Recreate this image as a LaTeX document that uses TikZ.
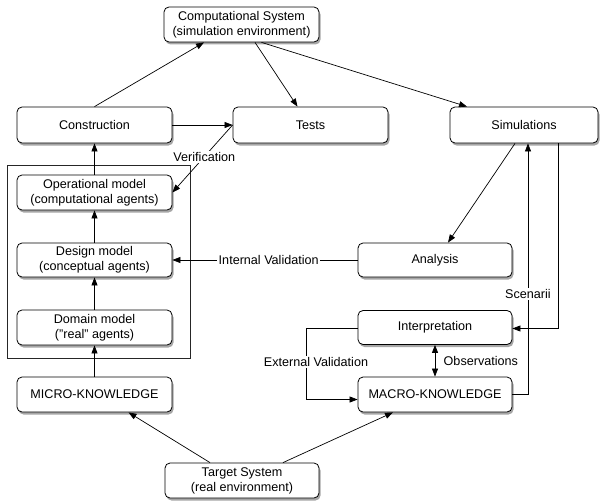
\documentclass[tikz,border=0pt]{standalone}
\usepackage{fontspec}
\setmainfont{Liberation Sans}
\usetikzlibrary{arrows.meta,shadows}
\begin{document}
\begin{tikzpicture}[x=1pt,y=-1pt,
  font=\fontsize{12.6}{15}\selectfont,
  box/.style={draw=black, line width=0.8pt, rounded corners=5pt, fill=white,
    align=center, minimum width=155pt, minimum height=35pt, inner sep=1pt,
    drop shadow={shadow xshift=1.5pt, shadow yshift=-2.5pt, fill=black, opacity=0.35}},
  arr/.style={draw, line width=0.7pt, -{Triangle[length=8pt,width=6pt]}},
  arrs/.style={draw, line width=0.7pt, {Triangle[length=8pt,width=6pt]}-{Triangle[length=8pt,width=6pt]}},
  lbl/.style={fill=white, inner sep=1.5pt}]
\useasboundingbox (0,0) rectangle (601,500);

% frame
\draw[line width=1pt, draw=black!85] (7,165) rectangle (190,358);

\node[box] (cs) at (241.5,24.5) {Computational System\\(simulation environment)};
\node[box, minimum height=36pt] (cons) at (94.5,125) {Construction};
\node[box, minimum height=36pt] (tests) at (310.5,125) {Tests};
\node[box, minimum height=36pt, minimum width=148pt] (sim) at (524,125) {Simulations};
\node[box] (op) at (94.5,192.5) {Operational model\\(computational agents)};
\node[box, minimum height=34pt] (des) at (94.5,260) {Design model\\(conceptual agents)};
\node[box] (dom) at (94.5,327.5) {Domain model\\("real" agents)};
\node[box] (micro) at (94.5,394.5) {MICRO-KNOWLEDGE};
\node[box, minimum width=154pt] (target) at (242,480.5) {Target System\\(real environment)};
\node[box, minimum width=154pt, minimum height=34pt] (ana) at (435,260) {Analysis};
\node[box, minimum width=154pt, minimum height=34pt] (interp) at (435,327.5) {Interpretation};
\node[box, minimum width=154pt] (macro) at (435,394.5) {MACRO-KNOWLEDGE};

% connectors
\draw[arr] (cons.north) -- ([xshift=-37.5pt]cs.south);
\draw[arr] ([xshift=13.5pt]cs.south) -- ([xshift=-13pt]tests.north);
\draw[arr] ([xshift=20pt]cs.south) -- ([xshift=-57pt]sim.north);
\draw[arr] (cons.east) -- (tests.west);
\draw[arr] (tests.west) -- node[lbl, pos=0.47] (verif) {Verification} (op.east);
\draw[arr] (op.north) -- (cons.south);
\draw[arr] (des.north) -- (op.south);
\draw[arr] (dom.north) -- (des.south);
\draw[arr] (micro.north) -- (dom.south);
\draw[arr] ([xshift=-32pt]target.north) -- ([xshift=34pt]micro.south);
\draw[arr] ([xshift=41pt]target.north) -- ([xshift=-42pt]macro.south);
\draw[arr] ([xshift=-9pt]sim.south) -- ([xshift=13pt]ana.north);
\draw[arr] (ana.west) -- node[lbl, pos=0.48] (intval) {Internal Validation} (des.east);
\draw[arr] (macro.east) -| node[lbl, pos=0.70] (scen) {Scenarii} ([xshift=4pt]sim.south);
\draw[arr] ([xshift=34pt]sim.south) |- ([yshift=-1pt]interp.east);
\draw[arr] ([yshift=-1pt]interp.west) -- ++(-51,0) |- ([yshift=-5pt]macro.west);
\node[lbl] (extval) at (316,362) {External Validation};
\draw[arrs] (interp.south) -- node[right=5pt] (obs) {Observations} (macro.north);
\end{tikzpicture}
\end{document}
